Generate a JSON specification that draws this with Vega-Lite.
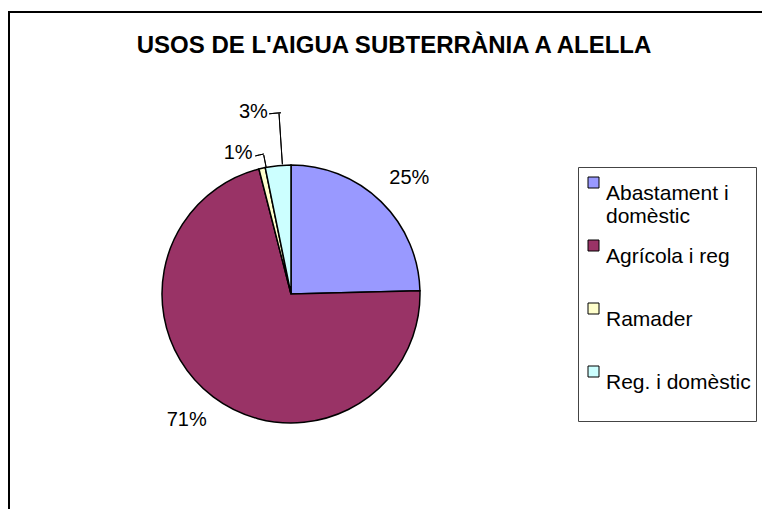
{
  "$schema": "https://vega.github.io/schema/vega-lite/v6.json",
  "width": 760,
  "height": 505,
  "autosize": {"type": "none"},
  "padding": {"left": 9, "top": 12, "right": 0, "bottom": 0},
  "background": "white",
  "view": {"stroke": "black", "strokeWidth": 2},
  "title": {
    "text": "USOS DE L'AIGUA SUBTERRÀNIA A ALELLA",
    "font": "Liberation Sans",
    "fontSize": 24,
    "fontWeight": "bold",
    "color": "black",
    "anchor": "middle",
    "baseline": "alphabetic",
    "offset": 0,
    "dx": 5,
    "dy": 65
  },
  "data": {
    "values": [
      {"uso": "Abastament i domèstic", "value": 24.6},
      {"uso": "Agrícola i reg", "value": 71.4},
      {"uso": "Ramader", "value": 0.8},
      {"uso": "Reg. i domèstic", "value": 3.2}
    ]
  },
  "transform": [
    {"joinaggregate": [{"op": "sum", "field": "value", "as": "total"}]},
    {"calculate": "datum.value / datum.total", "as": "pct"},
    {"calculate": "format(datum.pct, '.0%')", "as": "pctLabel"}
  ],
  "encoding": {
    "theta": {"field": "value", "type": "quantitative", "stack": true},
    "order": {"field": "uso", "type": "nominal"},
    "x": {"value": 282},
    "y": {"value": 282}
  },
  "layer": [
    {
      "mark": {"type": "arc", "outerRadius": 129, "stroke": "black", "strokeWidth": 1.5},
      "encoding": {
        "color": {
          "field": "uso",
          "type": "nominal",
          "scale": {
            "domain": ["Abastament i domèstic", "Agrícola i reg", "Ramader", "Reg. i domèstic"],
            "range": ["#9999FF", "#993366", "#FFFFCC", "#CCFFFF"]
          },
          "legend": {
            "orient": "none",
            "legendX": 569,
            "legendY": 155,
            "title": null,
            "strokeColor": "#444444",
            "fillColor": "white",
            "padding": 5,
            "symbolType": "square",
            "symbolSize": 121,
            "symbolStrokeColor": "black",
            "symbolStrokeWidth": 1,
            "symbolOpacity": 1,
            "labelFont": "Liberation Sans",
            "labelFontSize": 21,
            "labelColor": "black",
            "labelLimit": 300,
            "labelOffset": 2,
            "labelBaseline": "top",
            "rowPadding": 8,
            "labelExpr": "datum.label == 'Abastament i domèstic' ? ['Abastament i', 'domèstic'] : [datum.label, '']"
          }
        }
      }
    },
    {
      "mark": {"type": "arc", "fill": null, "stroke": "black", "strokeWidth": 1, "outerRadius": 181, "innerRadius": 130, "padAngle": 0.5, "thetaOffset": 0.0342},
      "encoding": {"strokeOpacity": {"condition": {"test": "datum.uso == 'Reg. i domèstic'", "value": 1}, "value": 0}}
    },
    {
      "mark": {"type": "arc", "fill": null, "stroke": "black", "strokeWidth": 1, "outerRadius": 181.5, "innerRadius": 181.5, "padAngle": 0.0965, "thetaOffset": 0.0124},
      "encoding": {"strokeOpacity": {"condition": {"test": "datum.uso == 'Reg. i domèstic'", "value": 1}, "value": 0}}
    },
    {
      "mark": {"type": "arc", "fill": null, "stroke": "black", "strokeWidth": 1, "outerRadius": 141.6, "innerRadius": 129.5, "padAngle": 0.5, "thetaOffset": -0.0932},
      "encoding": {"strokeOpacity": {"condition": {"test": "datum.uso == 'Reg. i domèstic'", "value": 1}, "value": 0}}
    },
    {
      "mark": {"type": "arc", "fill": null, "stroke": "black", "strokeWidth": 1, "outerRadius": 142.6, "innerRadius": 142.6, "padAngle": 0.099, "thetaOffset": -0.122},
      "encoding": {"strokeOpacity": {"condition": {"test": "datum.uso == 'Reg. i domèstic'", "value": 1}, "value": 0}}
    },
    {
      "mark": {"type": "text", "radius": 168, "dx": 1, "dy": 4, "font": "Liberation Sans", "fontSize": 20, "color": "black"},
      "encoding": {"text": {"condition": {"test": "datum.uso == 'Abastament i domèstic'", "field": "pctLabel"}, "value": ""}}
    },
    {
      "mark": {"type": "text", "radius": 163, "dx": -6, "dy": -4, "font": "Liberation Sans", "fontSize": 20, "color": "black"},
      "encoding": {"text": {"condition": {"test": "datum.uso == 'Agrícola i reg'", "field": "pctLabel"}, "value": ""}}
    },
    {
      "mark": {"type": "text", "radius": 151, "dx": -19, "dy": 6, "font": "Liberation Sans", "fontSize": 20, "color": "black"},
      "encoding": {"text": {"condition": {"test": "datum.uso == 'Ramader'", "field": "pctLabel"}, "value": ""}}
    },
    {
      "mark": {"type": "text", "radius": 185, "dx": -19, "dy": 2, "font": "Liberation Sans", "fontSize": 20, "color": "black"},
      "encoding": {"text": {"condition": {"test": "datum.uso == 'Reg. i domèstic'", "field": "pctLabel"}, "value": ""}}
    }
  ]
}
